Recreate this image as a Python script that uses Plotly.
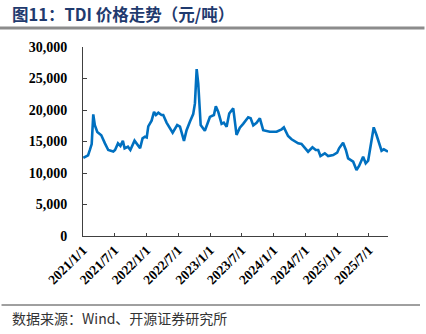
import plotly.graph_objects as go

dates = ["2021-01-03","2021-01-30","2021-02-10","2021-02-20","2021-03-01","2021-03-10","2021-03-24","2021-04-16",
"2021-05-07","2021-05-26","2021-06-24","2021-07-04","2021-07-21","2021-08-04","2021-08-18","2021-08-28",
"2021-09-16","2021-09-30","2021-10-24","2021-11-06","2021-11-25","2021-12-09","2021-12-23","2022-01-02","2022-01-11","2022-01-30","2022-02-13",
"2022-02-24","2022-03-10","2022-03-28","2022-04-07","2022-04-26","2022-05-31","2022-06-26","2022-07-12","2022-08-04",
"2022-08-19","2022-09-07","2022-09-26","2022-10-06","2022-10-16","2022-10-25","2022-11-08","2022-12-02",
"2022-12-31","2023-01-23","2023-02-03","2023-02-17","2023-03-08","2023-03-21","2023-04-06","2023-04-21",
"2023-05-14","2023-06-02","2023-06-21","2023-07-10","2023-08-08","2023-08-22","2023-09-06","2023-09-25",
"2023-10-14","2023-11-02","2023-12-10","2024-01-18","2024-02-16","2024-02-29","2024-03-24","2024-04-13",
"2024-05-02","2024-05-21","2024-06-09","2024-06-28","2024-07-17","2024-08-11","2024-08-30","2024-09-13",
"2024-09-26","2024-10-21","2024-11-09","2024-12-08","2024-12-31","2025-01-11","2025-02-03","2025-02-19",
"2025-03-04","2025-04-02","2025-04-21","2025-05-06","2025-05-29","2025-06-13","2025-06-27","2025-07-12",
"2025-07-29","2025-08-14","2025-08-29","2025-09-12","2025-09-25","2025-10-19"]
prices = [12400,12800,13700,14600,19300,17600,16500,16000,
14700,13650,13400,13650,14700,14300,15130,13920,
14170,13650,15130,14700,13920,15500,15760,15650,17400,18300,19700,
19200,19570,19200,19200,18000,16400,17600,17350,15100,
16800,18150,19350,21050,26500,24200,17600,16700,
18900,19200,20600,19700,17800,18000,17350,19450,
20250,16050,17200,17800,18850,18700,17550,17980,
18680,16800,16550,16550,16930,17250,15870,15350,
14970,14710,14600,13920,13380,14080,13650,13650,
12700,13120,12700,12850,13220,13920,14810,13650,
12330,11790,10470,11110,12590,11540,11950,14440,
17250,16030,14600,13540,13760,13380]

x_ticks = ["2021-01-01","2021-07-01","2022-01-01","2022-07-01","2023-01-01","2023-07-01",
           "2024-01-01","2024-07-01","2025-01-01","2025-07-01"]
x_tick_labels = ["2021/1/1","2021/7/1","2022/1/1","2022/7/1","2023/1/1","2023/7/1",
                 "2024/1/1","2024/7/1","2025/1/1","2025/7/1"]
y_ticks = [0,5000,10000,15000,20000,25000,30000]
y_tick_labels = ["0","5,000","10,000","15,000","20,000","25,000","30,000"]

title_text = "图11：TDI 价格走势（元/吨）"
source_text = "数据来源：Wind、开源证券研究所"

fig = go.Figure()
fig.add_trace(go.Scatter(x=dates, y=prices, mode="lines",
                         line=dict(color="#0070C0", width=2.6), showlegend=False))

serif = "Liberation Serif, Times New Roman, serif"
fig.update_layout(
    width=426, height=334,
    margin=dict(l=83, r=38, t=47, b=98),
    paper_bgcolor="white", plot_bgcolor="white",
    xaxis=dict(range=["2021-01-01","2025-10-19"], tickvals=x_ticks, ticktext=x_tick_labels,
               tickangle=-45, showgrid=False, zeroline=False,
               showline=True, linecolor="#404040", linewidth=1,
               ticks="inside", ticklen=3, tickcolor="#404040",
               tickfont=dict(family=serif, size=13.5, color="black", weight="bold")),
    yaxis=dict(range=[0,30000], tickvals=y_ticks, ticktext=y_tick_labels,
               showgrid=False, zeroline=False,
               showline=True, linecolor="#404040", linewidth=1,
               ticks="inside", ticklen=4, tickcolor="#404040", ticklabelstandoff=12,
               tickfont=dict(family=serif, size=14, color="black", weight="bold")),
    shapes=[
        dict(type="line", xref="paper", yref="paper", x0=-83/305, x1=(426-83)/305 - 0.005,
             y0=1+(47-28)/189, y1=1+(47-28)/189, line=dict(color="#8C8C8C", width=3)),
        dict(type="line", xref="paper", yref="paper", x0=-83/305+0.005, x1=(420-83)/305,
             y0=-(305-236)/189, y1=-(305-236)/189, line=dict(color="#404040", width=1)),
    ],
    annotations=[
        dict(text="<b>"+title_text+"</b>", xref="paper", yref="paper",
             x=-(83-10)/305, y=1+(47-14)/189, xanchor="left", yanchor="middle", showarrow=False,
             font=dict(family="Noto Sans CJK SC, Liberation Serif", size=16.5, color="#1F3A6E")),
        dict(text=source_text, xref="paper", yref="paper",
             x=-(83-10)/305, y=-(318-236)/189, xanchor="left", yanchor="middle", showarrow=False,
             font=dict(family="Noto Sans CJK SC, Liberation Serif", size=14, color="#333333")),
    ],
)

fig.write_html("out.html")
